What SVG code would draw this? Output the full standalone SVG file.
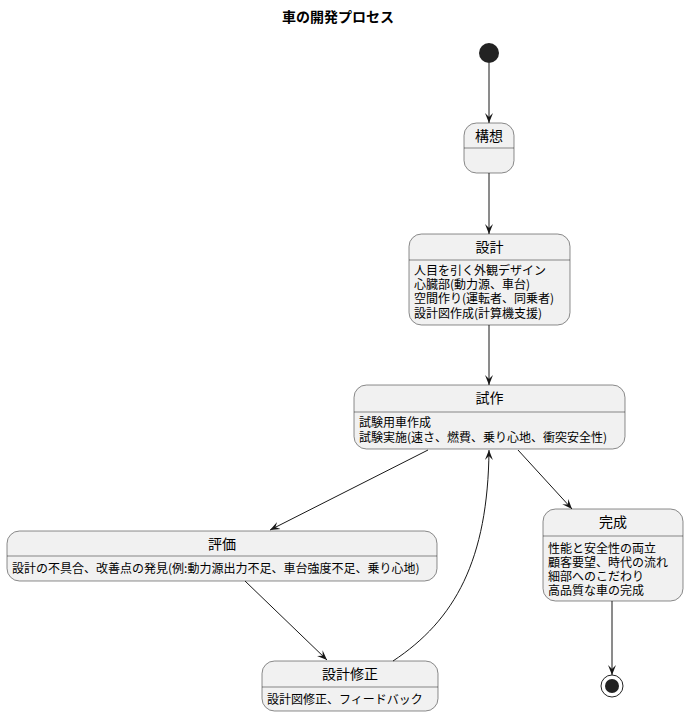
<svg xmlns="http://www.w3.org/2000/svg" width="688" height="717" viewBox="0 0 688 717">
<style>
text{font-family:"Noto Sans CJK JP","Noto Sans",sans-serif;fill:#000}
.st{fill:#F1F1F1;stroke:#181818;stroke-width:0.5}
.sep{stroke:#181818;stroke-width:0.5}
.nm{font-size:14px;text-anchor:middle}
.bd{font-size:12px}
.title{font-size:14px;font-weight:bold;text-anchor:middle}
.edge{fill:none;stroke:#181818;stroke-width:1}
</style>
<defs>
<marker id="ah" viewBox="0 0 10 10" refX="10" refY="5" markerWidth="10" markerHeight="10" markerUnits="userSpaceOnUse" orient="auto">
<path d="M0,1 L10,5 L0,9 L4,5 Z" fill="#181818"/>
</marker>
</defs>
<text class="title" x="338" y="22">車の開発プロセス</text>
<g id="start"><circle cx="489" cy="53" r="10" fill="#222"/></g>
<g id="kousou">
<rect class="st" x="464" y="123" width="50" height="50" rx="12.5"/>
<line class="sep" x1="464" y1="148" x2="514" y2="148"/>
<text class="nm" x="489" y="141">構想</text>
</g>
<g id="sekkei">
<rect class="st" x="409" y="234" width="161" height="91" rx="12.5"/>
<line class="sep" x1="409" y1="260" x2="570" y2="260"/>
<text class="nm" x="489.5" y="252">設計</text>
<text class="bd" x="414" y="275">人目を引く外観デザイン</text>
<text class="bd" x="414" y="289">心臓部(動力源、車台)</text>
<text class="bd" x="414" y="303">空間作り(運転者、同乗者)</text>
<text class="bd" x="414" y="318">設計図作成(計算機支援)</text>
</g>
<g id="shisaku">
<rect class="st" x="354" y="385" width="271" height="64" rx="12.5"/>
<line class="sep" x1="354" y1="412" x2="625" y2="412"/>
<text class="nm" x="489.5" y="403">試作</text>
<text class="bd" x="359" y="427">試験用車作成</text>
<text class="bd" x="359" y="442">試験実施(速さ、燃費、乗り心地、衝突安全性)</text>
</g>
<g id="hyouka">
<rect class="st" x="7" y="531" width="430" height="50" rx="12.5"/>
<line class="sep" x1="7" y1="556" x2="437" y2="556"/>
<text class="nm" x="222" y="549">評価</text>
<text class="bd" x="12" y="573">設計の不具合、改善点の発見(例:動力源出力不足、車台強度不足、乗り心地)</text>
</g>
<g id="kansei">
<rect class="st" x="543" y="509" width="140" height="92" rx="12.5"/>
<line class="sep" x1="543" y1="536" x2="683" y2="536"/>
<text class="nm" x="613" y="527">完成</text>
<text class="bd" x="548" y="553">性能と安全性の両立</text>
<text class="bd" x="548" y="567">顧客要望、時代の流れ</text>
<text class="bd" x="548" y="581">細部へのこだわり</text>
<text class="bd" x="548" y="595">高品質な車の完成</text>
</g>
<g id="sekkeishusei">
<rect class="st" x="262" y="661" width="176" height="50" rx="12.5"/>
<line class="sep" x1="262" y1="687" x2="438" y2="687"/>
<text class="nm" x="350" y="679">設計修正</text>
<text class="bd" x="267" y="704">設計図修正、フィードバック</text>
</g>
<g id="end">
<circle cx="612" cy="686" r="11" fill="none" stroke="#222" stroke-width="1"/>
<circle cx="612" cy="686" r="7" fill="#222"/>
</g>
<g id="connectors">
<path class="edge" d="M489,63 L489,123" marker-end="url(#ah)"/>
<path class="edge" d="M489,173 L489,234" marker-end="url(#ah)"/>
<path class="edge" d="M489,325 L489,385" marker-end="url(#ah)"/>
<path class="edge" d="M428,450 L270,530" marker-end="url(#ah)"/>
<path class="edge" d="M518,450 L572,509" marker-end="url(#ah)"/>
<path class="edge" d="M245,581 L327,660" marker-end="url(#ah)"/>
<path class="edge" d="M393,661 C455,620 488,560 489,450" marker-end="url(#ah)"/>
<path class="edge" d="M612,601 L612,675" marker-end="url(#ah)"/>
</g>
</svg>
